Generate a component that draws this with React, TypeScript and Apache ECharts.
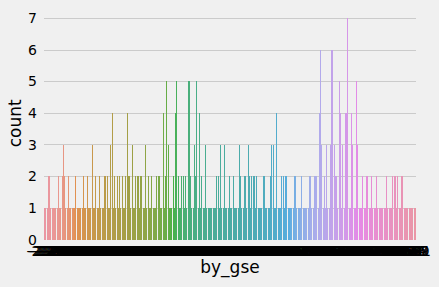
import React, { useEffect, useRef } from "react";
import * as echarts from "echarts";

// counts per by_gse category (left to right)
const counts: number[] = [
  1, 1, 1, 2, 2, 1, 1, 1, 1, 1, 1, 2, 1, 1, 2, 3, 2, 1, 1, 2,
  1, 1, 1, 1, 1, 2, 1, 1, 1, 1, 1, 2, 1, 1, 2, 1, 1, 1, 3, 1,
  1, 2, 1, 1, 2, 1, 1, 1, 2, 2, 2, 1, 1, 3, 4, 1, 2, 1, 2, 1,
  2, 1, 2, 1, 1, 2, 4, 2, 2, 1, 3, 1, 1, 2, 2, 2, 1, 2, 2, 1,
  1, 3, 1, 2, 1, 1, 2, 1, 1, 1, 2, 2, 2, 1, 1, 4, 1, 2, 5, 3,
  1, 1, 1, 2, 1, 4, 5, 2, 1, 1, 2, 2, 1, 2, 1, 5, 5, 2, 1, 1,
  3, 2, 5, 1, 4, 1, 2, 1, 1, 3, 1, 1, 1, 1, 1, 1, 1, 1, 2, 2,
  1, 3, 1, 1, 3, 1, 1, 1, 2, 1, 1, 2, 1, 1, 1, 1, 3, 2, 1, 1,
  2, 2, 1, 3, 2, 1, 2, 2, 2, 1, 2, 1, 1, 1, 1, 2, 2, 1, 1, 1,
  1, 2, 3, 3, 1, 1, 4, 1, 1, 1, 2, 2, 1, 2, 2, 1, 1, 1, 1, 1,
  2, 2, 1, 1, 1, 1, 2, 1, 1, 1, 1, 1, 2, 2, 1, 1, 2, 2, 2, 1,
  4, 6, 3, 1, 2, 1, 3, 1, 1, 3, 6, 6, 3, 2, 2, 1, 5, 4, 1, 3,
  1, 4, 4, 7, 1, 1, 4, 3, 1, 1, 5, 3, 1, 1, 1, 2, 1, 1, 2, 2,
  1, 1, 2, 1, 1, 1, 2, 1, 1, 1, 1, 1, 1, 1, 2, 1, 1, 1, 1, 2,
  2, 2, 1, 2, 1, 1, 2, 2, 1, 1, 1, 1, 1, 1, 1, 1, 1, 1,
];

// by_gse category values (tick labels, unreadable in the picture: estimated)
const gseValues: string[] = [
  "-2.28", "-2.26", "-2.25", "-2.23", "-2.21", "-2.20", "-2.18", "-2.16", "-2.15", "-2.13", "-2.11", "-2.09", "-2.08", "-2.06", "-2.04", "-2.03", "-2.01", "-1.99", "-1.97", "-1.96",
  "-1.94", "-1.92", "-1.91", "-1.89", "-1.87", "-1.85", "-1.84", "-1.82", "-1.80", "-1.79", "-1.77", "-1.75", "-1.73", "-1.72", "-1.70", "-1.68", "-1.67", "-1.65", "-1.63", "-1.61",
  "-1.60", "-1.58", "-1.56", "-1.55", "-1.53", "-1.51", "-1.49", "-1.48", "-1.46", "-1.44", "-1.43", "-1.41", "-1.39", "-1.37", "-1.36", "-1.34", "-1.32", "-1.31", "-1.29", "-1.27",
  "-1.25", "-1.24", "-1.22", "-1.20", "-1.19", "-1.17", "-1.15", "-1.13", "-1.12", "-1.10", "-1.08", "-1.07", "-1.05", "-1.03", "-1.01", "-1.00", "-0.98", "-0.96", "-0.95", "-0.93",
  "-0.91", "-0.89", "-0.88", "-0.86", "-0.84", "-0.83", "-0.81", "-0.79", "-0.77", "-0.76", "-0.74", "-0.72", "-0.71", "-0.69", "-0.67", "-0.65", "-0.64", "-0.62", "-0.60", "-0.59",
  "-0.57", "-0.55", "-0.53", "-0.52", "-0.50", "-0.48", "-0.47", "-0.45", "-0.43", "-0.41", "-0.40", "-0.38", "-0.36", "-0.35", "-0.33", "-0.31", "-0.29", "-0.28", "-0.26", "-0.24",
  "-0.23", "-0.21", "-0.19", "-0.17", "-0.16", "-0.14", "-0.12", "-0.11", "-0.09", "-0.07", "-0.05", "-0.04", "-0.02", "0.00", "0.01", "0.03", "0.05", "0.07", "0.08", "0.10",
  "0.12", "0.13", "0.15", "0.17", "0.19", "0.20", "0.22", "0.24", "0.25", "0.27", "0.29", "0.31", "0.32", "0.34", "0.36", "0.37", "0.39", "0.41", "0.43", "0.44",
  "0.46", "0.48", "0.49", "0.51", "0.53", "0.55", "0.56", "0.58", "0.60", "0.61", "0.63", "0.65", "0.67", "0.68", "0.70", "0.72", "0.73", "0.75", "0.77", "0.79",
  "0.80", "0.82", "0.84", "0.85", "0.87", "0.89", "0.91", "0.92", "0.94", "0.96", "0.97", "0.99", "1.01", "1.03", "1.04", "1.06", "1.08", "1.09", "1.11", "1.13",
  "1.15", "1.16", "1.18", "1.20", "1.21", "1.23", "1.25", "1.27", "1.28", "1.30", "1.32", "1.33", "1.35", "1.37", "1.39", "1.40", "1.42", "1.44", "1.45", "1.47",
  "1.49", "1.51", "1.52", "1.54", "1.56", "1.57", "1.59", "1.61", "1.63", "1.64", "1.66", "1.68", "1.69", "1.71", "1.73", "1.75", "1.76", "1.78", "1.80", "1.81",
  "1.83", "1.85", "1.87", "1.88", "1.90", "1.92", "1.93", "1.95", "1.97", "1.99", "2.00", "2.02", "2.04", "2.05", "2.07", "2.09", "2.11", "2.12", "2.14", "2.16",
  "2.17", "2.19", "2.21", "2.23", "2.24", "2.26", "2.28", "2.29", "2.31", "2.33", "2.35", "2.36", "2.38", "2.40", "2.41", "2.43", "2.45", "2.47", "2.48", "2.50",
  "2.52", "2.53", "2.55", "2.57", "2.59", "2.60", "2.62", "2.64", "2.65", "2.67", "2.69", "2.71", "2.72", "2.74", "2.76", "2.77", "2.79", "2.81",
];

const yMax = 7.35;
const yStep = 1;

// ---- HUSL palette (as seaborn) ----
const M = [
  [3.2406, -1.5372, -0.4986],
  [-0.9689, 1.8758, 0.0415],
  [0.0557, -0.204, 1.057],
];
const refU = 0.19784;
const refV = 0.46834;
const labE = 0.008856;
const labK = 903.3;

function maxChroma(L: number, H: number): number {
  const hrad = (H / 360) * 2 * Math.PI;
  const sinH = Math.sin(hrad);
  const cosH = Math.cos(hrad);
  const sub1 = Math.pow(L + 16, 3) / 1560896.0;
  const sub2 = sub1 > labE ? sub1 : L / labK;
  let result = Infinity;
  for (const row of M) {
    const [m1, m2, m3] = row;
    const top = (0.99915 * m1 + 1.05122 * m2 + 1.1446 * m3) * sub2;
    const rbottom = 0.8633 * m3 - 0.17266 * m2;
    const lbottom = 0.12949 * m3 - 0.38848 * m1;
    const bottom = (rbottom * sinH + lbottom * cosH) * sub2;
    for (const t of [0, 1]) {
      const C = (L * (top - 1.05122 * t)) / (bottom + 0.17266 * sinH * t);
      if (C > 0 && C < result) result = C;
    }
  }
  return result;
}

function fInv(t: number): number {
  return Math.pow(t, 3) > labE ? Math.pow(t, 3) : (116 * t - 16) / labK;
}

function fromLinear(c: number): number {
  return c <= 0.0031308 ? 12.92 * c : 1.055 * Math.pow(c, 1 / 2.4) - 0.055;
}

function huslToRgb(H: number, S: number, L: number): number[] {
  const C = (maxChroma(L, H) / 100) * S;
  const hrad = (H / 360) * 2 * Math.PI;
  const U = Math.cos(hrad) * C;
  const V = Math.sin(hrad) * C;
  const varY = fInv((L + 16) / 116);
  const varU = U / (13 * L) + refU;
  const varV = V / (13 * L) + refV;
  const Y = varY;
  const X = 0 - (9 * Y * varU) / ((varU - 4) * varV - varU * varV);
  const Z = (9 * Y - 15 * varV * Y - varV * X) / (3 * varV);
  return M.map((row) =>
    Math.min(1, Math.max(0, fromLinear(row[0] * X + row[1] * Y + row[2] * Z)))
  );
}

function desaturate(rgb: number[], prop: number): number[] {
  const [r, g, b] = rgb;
  const mx = Math.max(r, g, b);
  const mn = Math.min(r, g, b);
  const l = (mx + mn) / 2;
  if (mx === mn) return rgb;
  let s = l <= 0.5 ? (mx - mn) / (mx + mn) : (mx - mn) / (2 - mx - mn);
  const rc = (mx - r) / (mx - mn);
  const gc = (mx - g) / (mx - mn);
  const bc = (mx - b) / (mx - mn);
  let h: number;
  if (r === mx) h = bc - gc;
  else if (g === mx) h = 2 + rc - bc;
  else h = 4 + gc - rc;
  h = ((h / 6) % 1 + 1) % 1;
  s *= prop;
  const m2 = l <= 0.5 ? l * (1 + s) : l + s - l * s;
  const m1 = 2 * l - m2;
  const v = (hue: number) => {
    hue = ((hue % 1) + 1) % 1;
    if (hue < 1 / 6) return m1 + (m2 - m1) * hue * 6;
    if (hue < 0.5) return m2;
    if (hue < 2 / 3) return m1 + (m2 - m1) * (2 / 3 - hue) * 6;
    return m1;
  };
  return [v(h + 1 / 3), v(h), v(h - 1 / 3)];
}

function huslPalette(n: number): string[] {
  const out: string[] = [];
  for (let i = 0; i < n; i++) {
    const h = ((i / n + 0.01) % 1) * 359;
    const rgb = desaturate(huslToRgb(h, 0.9 * 99, 0.7 * 99), 0.75);
    out.push(
      "rgb(" + rgb.map((c) => Math.round(c * 255)).join(",") + ")"
    );
  }
  return out;
}

const FONT = "DejaVu Sans";

export default function App() {
  const ref = useRef<HTMLDivElement>(null);
  useEffect(() => {
    if (!ref.current) return;
    document.body.style.background = "#f0f0f0";
    const chart = echarts.init(ref.current, null, {
      renderer: "svg",
      width: 439,
      height: 287,
    });
    const colors = huslPalette(counts.length);
    const lineColors: string[] = [];
    for (let v = 0; v <= Math.ceil(yMax); v += yStep) {
      lineColors.push(v === 0 || v > yMax ? "rgba(0,0,0,0)" : "#cbcbcb");
    }
    chart.setOption({
      animation: false,
      backgroundColor: "#f0f0f0",
      textStyle: { fontFamily: FONT },
      grid: {
        left: 44,
        right: 23,
        top: 7.2,
        bottom: 47.5,
        containLabel: false,
        outerBoundsMode: "none",
      },
      xAxis: {
        type: "category",
        data: gseValues,
        name: "by_gse",
        nameLocation: "middle",
        nameGap: 19,
        nameMoveOverlap: false,
        nameTextStyle: { fontSize: 17, color: "#000", fontFamily: FONT },
        axisLine: { show: false },
        axisTick: { show: false },
        splitLine: { show: false },
        axisLabel: {
          interval: 0,
          fontSize: 14,
          color: "#000",
          margin: 4,
          fontFamily: FONT,
        },
      },
      yAxis: {
        type: "value",
        min: 0,
        max: yMax,
        interval: yStep,
        name: "count",
        nameLocation: "middle",
        nameRotate: 90,
        nameGap: 21,
        nameMoveOverlap: false,
        nameTextStyle: { fontSize: 17, color: "#000", fontFamily: FONT },
        axisLine: { show: false },
        axisTick: { show: false },
        axisLabel: {
          fontSize: 14,
          color: "#000",
          margin: 7,
          fontFamily: FONT,
          formatter: (v: number) => (Number.isInteger(v) ? String(v) : ""),
        },
        splitLine: { lineStyle: { color: lineColors, width: 1 } },
      },
      series: [
        {
          type: "bar",
          barCategoryGap: "20%",
          data: counts.map((v, i) => ({ value: v, itemStyle: { color: colors[i] } })),
        },
      ],
    });
    return () => chart.dispose();
  }, []);
  return (
    <>
      <style>{`#chart-root path { shape-rendering: crispEdges; }`}</style>
      <div
        id="chart-root"
        ref={ref}
        style={{ position: "absolute", left: 0, top: 0, width: 439, height: 287 }}
      />
    </>
  );
}
